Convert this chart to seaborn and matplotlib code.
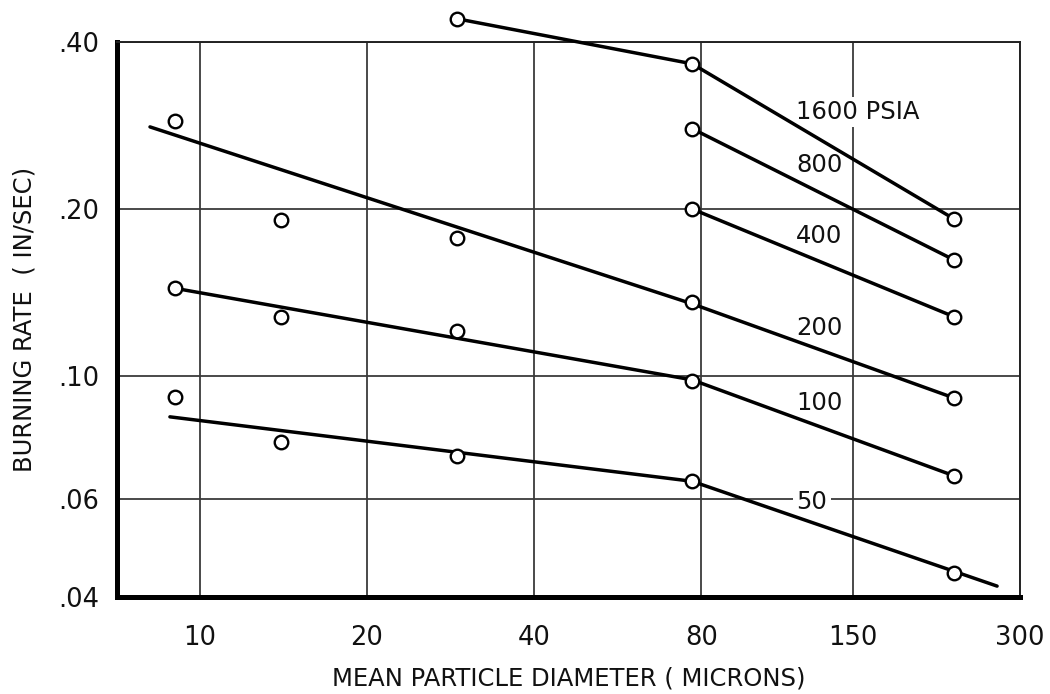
import numpy as np
import pandas as pd
import matplotlib
matplotlib.use("Agg")
import matplotlib.pyplot as plt
from matplotlib.ticker import FixedLocator, NullLocator
import seaborn as sns

# ---------------- data ----------------
diameter = [9.0, 14.0, 29.0, 77.0, 228.0]          # mean particle diameter, microns

rate_1600 = [np.nan, np.nan, 0.440, 0.365, 0.192]
rate_800 = [np.nan, np.nan, np.nan, 0.279, 0.162]
rate_400 = [np.nan, np.nan, np.nan, 0.200, 0.128]
rate_200 = [0.288, 0.191, 0.177, 0.136, 0.0914]
rate_100 = [0.144, 0.128, 0.1205, 0.098, 0.0662]
rate_50 = [0.0917, 0.0762, 0.0718, 0.0647, 0.0443]

# faired (fitted) lines drawn through the data
fit_1600_x = [29.0, 77.0, 228.0]
fit_1600_y = [0.440, 0.365, 0.192]
fit_800_x = [77.0, 228.0]
fit_800_y = [0.279, 0.162]
fit_400_x = [77.0, 228.0]
fit_400_y = [0.200, 0.128]
fit_200_x = [8.13, 77.0, 228.0]
fit_200_y = [0.281, 0.135, 0.0914]
fit_100_x = [9.0, 77.0, 228.0]
fit_100_y = [0.144, 0.0985, 0.0662]
fit_50_x = [8.83, 77.0, 272.8]
fit_50_y = [0.0845, 0.0647, 0.0419]

pressures = ["1600", "800", "400", "200", "100", "50"]
series_labels = ["1600 PSIA", "800", "400", "200", "100", "50"]

x_ticks = [10, 20, 40, 80, 150, 300]
x_ticklabels = ["10", "20", "40", "80", "150", "300"]
y_ticks = [0.04, 0.06, 0.10, 0.20, 0.40]
y_ticklabels = [".04", ".06", ".10", ".20", ".40"]

# ---------------- build tables ----------------
rates = [rate_1600, rate_800, rate_400, rate_200, rate_100, rate_50]
fits = [(fit_1600_x, fit_1600_y), (fit_800_x, fit_800_y), (fit_400_x, fit_400_y),
        (fit_200_x, fit_200_y), (fit_100_x, fit_100_y), (fit_50_x, fit_50_y)]

pts = pd.concat(
    [pd.DataFrame({"diameter": diameter, "rate": r, "psia": p}) for p, r in zip(pressures, rates)],
    ignore_index=True).dropna()
lines = pd.concat(
    [pd.DataFrame({"diameter": fx, "rate": fy, "psia": p}) for p, (fx, fy) in zip(pressures, fits)],
    ignore_index=True)

# ---------------- figure ----------------
sns.set_style("white")
plt.rcParams["font.family"] = ["DejaVu Sans"]

W, H = 1050, 694
fig = plt.figure(figsize=(W / 100, H / 100), dpi=100)
ax = fig.add_axes([117 / W, 1 - 597.3 / H, (1020 - 117) / W, (597.3 - 41.7) / H])
ax.set_xscale("log")
ax.set_yscale("log")

for p in pressures:
    sub = lines[lines["psia"] == p]
    sns.lineplot(data=sub, x="diameter", y="rate", ax=ax, sort=False, estimator=None,
                 color="black", linewidth=2.5, clip_on=False, zorder=4, legend=False)

sns.scatterplot(data=pts, x="diameter", y="rate", ax=ax, marker="o", s=95,
                facecolor="white", edgecolor="black", linewidth=1.7,
                clip_on=False, zorder=5, legend=False)

ax.set_xlim(7.09, 300)
ax.set_ylim(0.04, 0.40)

ax.xaxis.set_major_locator(FixedLocator(x_ticks))
ax.xaxis.set_minor_locator(NullLocator())
ax.set_xticklabels(x_ticklabels)
ax.yaxis.set_major_locator(FixedLocator(y_ticks))
ax.yaxis.set_minor_locator(NullLocator())
ax.set_yticklabels(y_ticklabels)
ax.tick_params(axis="x", length=0, pad=20, labelsize=18.5, labelcolor="#111111")
ax.tick_params(axis="y", length=0, pad=13, labelsize=18.5, labelcolor="#111111")

ax.set_axisbelow(True)
ax.grid(True, which="major", color="#3a3a3a", linewidth=1.3)

for side in ["left", "bottom"]:
    ax.spines[side].set_linewidth(3.6)
    ax.spines[side].set_color("black")
for side in ["top", "right"]:
    ax.spines[side].set_linewidth(1.4)
    ax.spines[side].set_color("#222222")

ax.set_xlabel("MEAN PARTICLE DIAMETER ( MICRONS)", fontsize=17.5, labelpad=11, color="#111111")
ax.set_ylabel("BURNING RATE  ( IN/SEC)", fontsize=17.5, labelpad=15, color="#111111")

# curve labels (left-aligned at ~118 microns)
label_x = 118.6
label_y = [0.299, 0.240, 0.1785, 0.122, 0.0895, 0.0594]
for txt, ly in zip(series_labels, label_y):
    ax.text(label_x, ly, txt, fontsize=17.5, ha="left", va="center", color="#111111",
            zorder=3, bbox=dict(facecolor="white", edgecolor="none", pad=2.5))

fig.savefig("out.png", dpi=100, facecolor="white")
